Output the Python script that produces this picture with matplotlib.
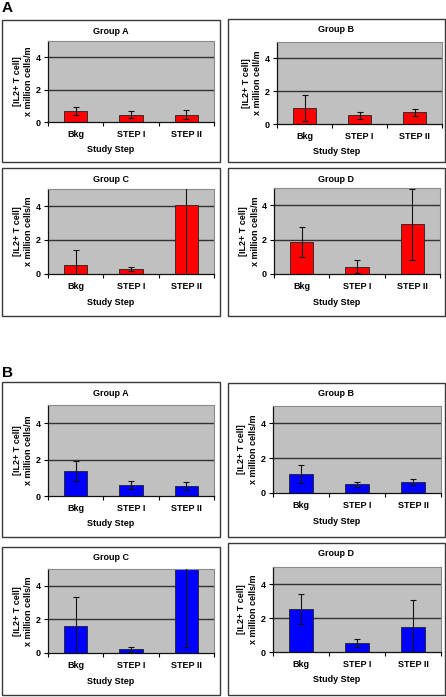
import matplotlib
matplotlib.use("Agg")
import matplotlib.pyplot as plt
from matplotlib.patches import Rectangle

plt.rcParams['font.family'] = ['Liberation Sans', 'DejaVu Sans']

W, H = 446, 697
DPI = 100

categories = ["Bkg", "STEP I", "STEP II"]
x_label = "Study Step"
y_ticks = [0, 2, 4]

# Panel A (red)
a_groupA = [0.68, 0.45, 0.45]
a_groupA_err = [0.23, 0.21, 0.27]
a_groupB = [0.98, 0.53, 0.71]
a_groupB_err = [0.78, 0.21, 0.20]
a_groupC = [0.55, 0.30, 4.06]
a_groupC_err = [0.84, 0.10, 4.20]
a_groupD = [1.84, 0.43, 2.88]
a_groupD_err = [0.87, 0.40, 2.05]

# Panel B (blue)
b_groupA = [1.39, 0.59, 0.56]
b_groupA_err = [0.54, 0.23, 0.21]
b_groupB = [1.10, 0.50, 0.63]
b_groupB_err = [0.50, 0.14, 0.19]
b_groupC = [1.63, 0.22, 5.06]
b_groupC_err = [1.71, 0.16, 4.70]
b_groupD = [2.53, 0.51, 1.45]
b_groupD_err = [0.86, 0.23, 1.61]

fig = plt.figure(figsize=(W / DPI, H / DPI), dpi=DPI)


def fx(px):
    return px / W


def fy(py):
    return 1 - py / H


def chart(frame, plot, title, values, errs, color, ylab2="x million cells/m"):
    fl, ft, fr, fb = frame
    fig.patches.append(Rectangle((fx(fl), fy(fb)), fx(fr - fl), (fb - ft) / H,
                                 transform=fig.transFigure, fill=False,
                                 edgecolor="#3a3a3a", linewidth=1.0))
    pl, pt, pr, pb = plot
    ax = fig.add_axes([fx(pl), fy(pb), fx(pr - pl), (pb - pt) / H])
    ax.set_facecolor("#c0c0c0")
    xs = list(range(len(categories)))
    ax.set_xlim(-0.5, 2.5)
    ax.set_ylim(0, 5)
    for y in [2, 4]:
        ax.axhline(y, color="#333333", linewidth=1.0, zorder=1)
    ax.bar(xs, values, width=0.42, color=color, edgecolor="#222222",
           linewidth=0.6, zorder=2)
    ax.errorbar(xs, values, yerr=errs, fmt="none", ecolor="#111111",
                elinewidth=0.8, capsize=2.5, capthick=0.8, zorder=3)
    ax.set_yticks(y_ticks)
    ax.set_yticklabels([str(t) for t in y_ticks], fontsize=6.5, fontweight="bold")
    ax.set_xticks(xs)
    ax.set_xticklabels(categories, fontsize=6.5, fontweight="bold")
    ax.set_xticks([-0.5, 0.5, 1.5, 2.5], minor=True)
    ax.tick_params(axis="x", which="major", length=0, pad=6)
    ax.tick_params(axis="x", which="minor", length=3, width=0.8, direction="out")
    ax.tick_params(axis="y", length=3, width=0.8, direction="out", pad=2)
    for s in ["top", "right"]:
        ax.spines[s].set_color("#8a8a8a")
        ax.spines[s].set_linewidth(0.8)
    for s in ["left", "bottom"]:
        ax.spines[s].set_color("#111111")
        ax.spines[s].set_linewidth(0.9)
    # title centred on frame
    fig.text(fx((fl + fr) / 2), fy(ft + 11), title, ha="center", va="center",
             fontsize=6.5, fontweight="bold")
    fig.text(fx((fl + fr) / 2), fy(pb + 28), x_label, ha="center", va="center",
             fontsize=6.5, fontweight="bold")
    fig.text(fx(pl - 31), fy((pt + pb) / 2), "[IL2+ T cell]", rotation=90,
             ha="center", va="center", fontsize=6.5, fontweight="bold")
    fig.text(fx(pl - 19), fy((pt + pb) / 2), ylab2, rotation=90,
             ha="center", va="center", fontsize=6.5, fontweight="bold")
    return ax


RED = "#ff0000"
BLUE = "#0000ff"

fig.text(fx(2), fy(8), "A", ha="left", va="center", fontsize=11, fontweight="bold")
fig.text(fx(2), fy(373), "B", ha="left", va="center", fontsize=11, fontweight="bold")

chart((2, 20, 220, 162), (48, 41, 214, 122), "Group A", a_groupA, a_groupA_err, RED)
chart((228, 19, 445, 162), (277, 42, 442, 124), "Group B", a_groupB, a_groupB_err, RED,
      ylab2="x million cell/m")
chart((2, 168, 220, 316), (48, 189, 214, 274), "Group C", a_groupC, a_groupC_err, RED)
chart((228, 168, 445, 316), (274, 188, 440, 274), "Group D", a_groupD, a_groupD_err, RED)

chart((2, 382, 220, 537), (48, 405, 214, 496), "Group A", b_groupA, b_groupA_err, BLUE)
chart((228, 383, 445, 537), (273, 406, 441, 493), "Group B", b_groupB, b_groupB_err, BLUE)
chart((2, 547, 220, 695), (48, 569, 214, 653), "Group C", b_groupC, b_groupC_err, BLUE)
chart((228, 543, 445, 695), (273, 567, 441, 652), "Group D", b_groupD, b_groupD_err, BLUE)

fig.savefig("out.png", dpi=DPI)
